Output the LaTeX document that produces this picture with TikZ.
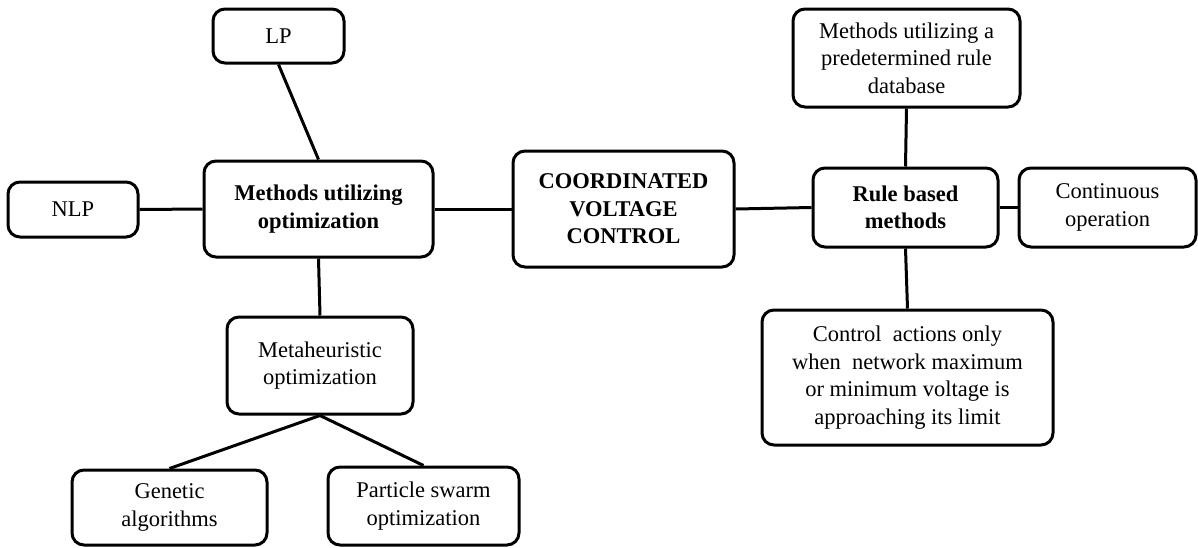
\documentclass[tikz,border=0pt]{standalone}
\usepackage{fontspec}
\setmainfont{Liberation Serif}
\begin{document}
\begin{tikzpicture}[x=1pt,y=-1pt,
  box/.style={draw,line width=3pt,rounded corners=12pt,inner sep=0pt,align=center,
    font=\fontsize{22.5}{27.5}\selectfont},
  bbox/.style={box,font=\fontsize{22.5}{27.5}\selectfont\bfseries},
  link/.style={line width=3pt}]
\useasboundingbox (0,0) rectangle (1198,547);
% box (x1,y1)-(x2,y2) given by centre and size
\node[box,minimum width=131pt,minimum height=54pt] (lp) at (278.5,36) {LP};
\node[box,minimum width=130pt,minimum height=55pt] (nlp) at (73,209.5) {NLP};
\node[bbox,minimum width=229pt,minimum height=96pt] (opt) at (318.5,209) {Methods utilizing\\optimization};
\node[bbox,minimum width=221pt,minimum height=116pt] (cvc) at (623.5,209) {COORDINATED\\VOLTAGE\\CONTROL};
\node[bbox,minimum width=185pt,minimum height=79pt] (rule) at (905.5,207.5) {Rule based\\methods};
\node[box,minimum width=177pt,minimum height=79pt] (cont) at (1107.5,207.5) {Continuous\\operation};
\node[box,minimum width=227pt,minimum height=98pt] (db) at (906.5,58) {Methods utilizing a\\predetermined rule\\database};
\node[box,minimum width=291pt,minimum height=135pt] (ctrl) at (907.5,377.5) {Control\ \ actions only\\when\ \ network maximum\\or minimum voltage is\\approaching its limit};
\node[box,minimum width=186pt,minimum height=97pt] (meta) at (320,365.5) {Metaheuristic\\optimization};
\node[box,minimum width=195pt,minimum height=75pt] (gen) at (169.5,507.5) {Genetic\\algorithms};
\node[box,minimum width=191pt,minimum height=78pt] (pso) at (423.5,506) {Particle swarm\\optimization};
% connectors
\draw[link] (lp.south) -- (opt.north);
\draw[link] (nlp.east) -- (opt.west);
\draw[link] (opt.east) -- (cvc.west);
\draw[link] (cvc.east) -- (rule.west);
\draw[link] (rule.east) -- (cont.west);
\draw[link] (db.south) -- (rule.north);
\draw[link] (rule.south) -- (ctrl.north);
\draw[link] (opt.south) -- (meta.north);
\draw[link] (meta.south) -- (gen.north);
\draw[link] (meta.south) -- (pso.north);
\end{tikzpicture}
\end{document}
